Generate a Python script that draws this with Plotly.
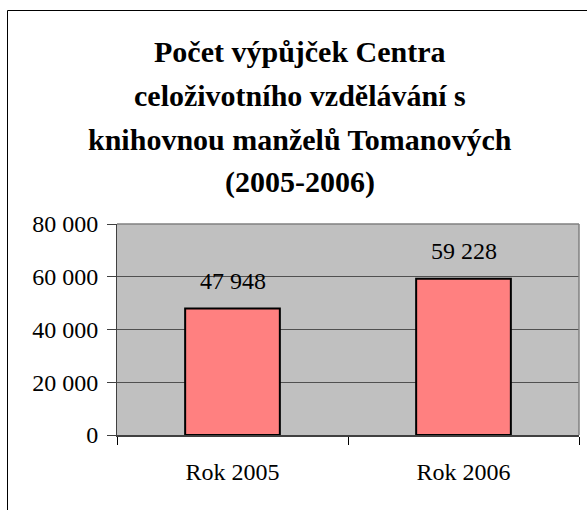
import plotly.graph_objects as go

categories = ["Rok 2005", "Rok 2006"]
values = [47948, 59228]
title_lines = ["Počet výpůjček Centra", "celoživotního vzdělávání s", "knihovnou manželů Tomanových", "(2005-2006)"]
y_ticks = [0, 20000, 40000, 60000, 80000]

SERIF = "Liberation Serif, Times New Roman, DejaVu Serif, serif"

W, H = 587, 510
L, R, T, B = 117, 8, 224, 75
pw, ph = W - L - R, H - T - B

def px_x(x):
    return (x - L) / pw

def px_y(y):
    return (H - B - y) / ph

fig = go.Figure()
fig.add_trace(go.Bar(
    x=categories, y=values,
    marker=dict(color="#FF8080", line=dict(color="#000000", width=2)),
    width=0.41, hoverinfo="skip",
))

def fmt(v):
    return f"{v:,}".replace(",", " ")

annotations = []
for c, v in zip(categories, values):
    annotations.append(dict(x=c, y=v, xref="x", yref="y", text=fmt(v), showarrow=False,
                            yanchor="middle", yshift=28,
                            font=dict(family=SERIF, size=24, color="#000")))

title_baselines = [51, 95, 139, 182]
for line, yb in zip(title_lines, title_baselines):
    annotations.append(dict(x=px_x(300), y=px_y(yb), xref="paper", yref="paper", text="<b>" + line + "</b>",
                            showarrow=False, xanchor="center", yanchor="middle",
                            font=dict(family=SERIF, size=30, color="#000")))

shapes = [
    dict(type="rect", xref="paper", yref="paper", x0=px_x(7.5), x1=px_x(620), y0=px_y(10.5), y1=px_y(560),
         line=dict(color="#000000", width=1), fillcolor="rgba(0,0,0,0)", layer="above"),
    dict(type="line", xref="paper", yref="paper", x0=0, x1=1, y0=1, y1=1, line=dict(color="#808080", width=1.5)),
    dict(type="line", xref="paper", yref="paper", x0=1, x1=1, y0=0, y1=1, line=dict(color="#808080", width=1.5)),
]

fig.update_layout(
    width=W, height=H,
    margin=dict(l=L, r=R, t=T, b=B, pad=0),
    paper_bgcolor="#FFFFFF", plot_bgcolor="#C0C0C0",
    showlegend=False,
    separators=". ",
    font=dict(family=SERIF, size=24, color="#000"),
    annotations=annotations, shapes=shapes,
    bargap=0.59,
)
fig.update_xaxes(
    type="category", tickson="boundaries", ticks="outside", ticklen=8, tickcolor="#000", tickwidth=1,
    showline=True, linecolor="#404040", linewidth=2, showgrid=False,
    tickfont=dict(family=SERIF, size=24, color="#000"), ticklabelstandoff=14,
)
fig.update_yaxes(
    range=[0, 80000], tickvals=y_ticks, ticktext=[fmt(v) for v in y_ticks],
    ticks="outside", ticklen=9, tickcolor="#404040", tickwidth=1,
    showline=True, linecolor="#404040", linewidth=1,
    showgrid=True, gridcolor="#505050", gridwidth=1, zeroline=False,
    tickfont=dict(family=SERIF, size=24, color="#000"), ticklabelstandoff=4,
)

fig.write_html("out.html", config={"displayModeBar": False},
               post_script="document.body.style.margin='0';")
